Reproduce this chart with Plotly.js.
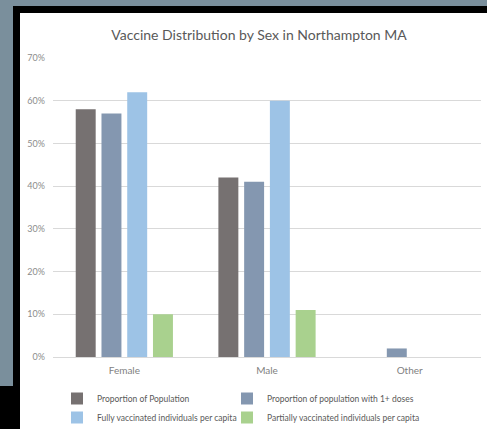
<!DOCTYPE html>
<html>
<head>
<meta charset="utf-8">
<script src="https://cdn.plot.ly/plotly-3.0.1.min.js"></script>
<style>
  html, body { margin: 0; padding: 0; width: 487px; height: 429px; overflow: hidden; background: #7a8f9c; }
  #frame { position: absolute; left: 13px; top: 6px; width: 474px; height: 423px; background: #000; }
  #blk { position: absolute; left: 0; top: 386px; width: 20px; height: 43px; background: #000; }
  #white { position: absolute; left: 20px; top: 13px; width: 467px; height: 416px; background: #fff; }
  #chart { position: absolute; left: 0; top: 0; width: 487px; height: 429px; }
</style>
</head>
<body>
<div id="frame"></div>
<div id="blk"></div>
<div id="white"></div>
<div id="chart"></div>
<script>
const categories = ["Female", "Male", "Other"];
const seriesNames = [
  "Proportion of Population",
  "Proportion of population with 1+ doses",
  "Fully vaccinated individuals per capita",
  "Partially vaccinated individuals per capita"
];
const proportionOfPopulation = [58, 42, 0];
const proportionWithOneDose = [57, 41, 2];
const fullyVaccinated = [62, 60, 0];
const partiallyVaccinated = [10, 11, 0];
const yTickValues = [0, 10, 20, 30, 40, 50, 60, 70];

const seriesValues = [proportionOfPopulation, proportionWithOneDose, fullyVaccinated, partiallyVaccinated];
const seriesColors = ["#767171", "#8497b0", "#9dc3e6", "#a9d18e"];
// legend columns: left column holds series 0 and 2, right column series 1 and 3
const seriesLegend = ["legend", "legend2", "legend", "legend2"];

const traces = seriesValues.map((vals, i) => ({
  type: "bar",
  name: seriesNames[i],
  x: categories,
  y: vals,
  marker: { color: seriesColors[i] },
  legend: seriesLegend[i],
  hoverinfo: "skip"
}));

const plotLeft = 53, plotRight = 481, plotTop = 58, plotBottom = 357;
const pw = plotRight - plotLeft, ph = plotBottom - plotTop;

const legendCommon = {
  orientation: "v",
  xref: "paper", yref: "paper",
  xanchor: "left",
  y: (plotBottom - 384) / ph, yanchor: "top",
  font: { family: "Lato, sans-serif", size: 8.5, color: "#595959" },
  traceorder: "normal",
  bgcolor: "rgba(0,0,0,0)"
};

const layout = {
  width: 487,
  height: 429,
  margin: { l: plotLeft, r: 487 - plotRight, t: plotTop, b: 429 - plotBottom, autoexpand: false },
  paper_bgcolor: "rgba(0,0,0,0)",
  plot_bgcolor: "rgba(0,0,0,0)",
  font: { family: "Lato, sans-serif", color: "#595959" },
  title: {
    text: "Vaccine Distribution by Sex in Northampton MA",
    font: { family: "Lato, sans-serif", size: 14, color: "#595959" },
    x: 259 / 487, xanchor: "center", xref: "container",
    y: 1 - 35 / 429, yanchor: "middle", yref: "container"
  },
  barmode: "group",
  bargap: 0.278,
  bargroupgap: 0.225,
  showlegend: true,
  xaxis: {
    type: "category",
    range: [-0.5, 2.5],
    showgrid: false,
    showline: false,
    zeroline: false,
    ticks: "",
    ticklabelstandoff: 6,
    tickangle: 0,
    tickfont: { size: 10, color: "#7f7f7f" },
    fixedrange: true
  },
  yaxis: {
    range: [0, 70],
    tickvals: yTickValues,
    ticktext: yTickValues.map(v => v + "%"),
    showgrid: true,
    gridcolor: "#d9d9d9",
    gridwidth: 1,
    zeroline: true,
    zerolinecolor: "#d9d9d9",
    zerolinewidth: 1,
    showline: false,
    ticks: "",
    ticklabelstandoff: 7,
    tickfont: { size: 9, color: "#8c8c8c" },
    fixedrange: true
  },
  legend: Object.assign({}, legendCommon, { x: (57 - plotLeft) / pw }),
  legend2: Object.assign({}, legendCommon, { x: (227 - plotLeft) / pw }),
  hovermode: false
};

Plotly.newPlot("chart", traces, layout, { displayModeBar: false, staticPlot: true });
</script>
</body>
</html>
